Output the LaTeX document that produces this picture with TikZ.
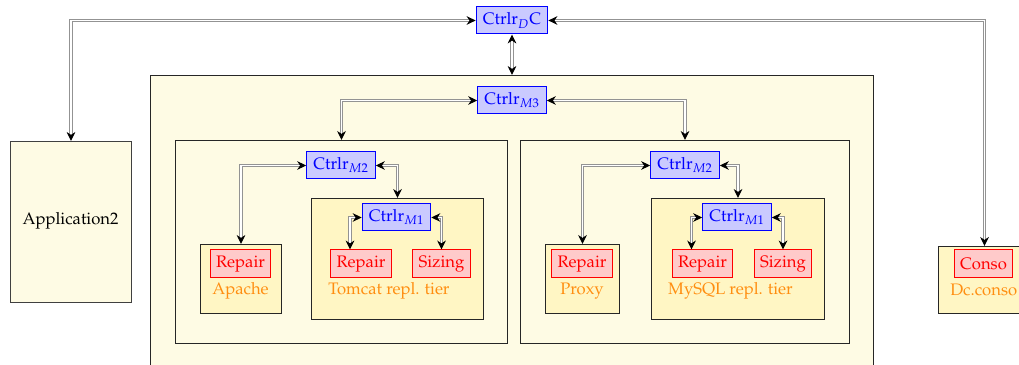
\documentclass[tikz,border=0pt]{standalone}
\usepackage[T1]{fontenc}
\usepackage{mathpazo}
\usetikzlibrary{arrows.meta,calc}
\definecolor{bgy}{HTML}{FEFBE4}
\definecolor{iny}{HTML}{FFF6C4}
\definecolor{ctrlfill}{HTML}{CACAFF}
\definecolor{repfill}{HTML}{FFCACA}
\definecolor{lblor}{HTML}{FF8E10}
\begin{document}
\begin{tikzpicture}[x=0.6pt,y=-0.6pt,
  ctrl/.style={draw=blue, fill=ctrlfill, text=blue, minimum height=16.2pt, inner xsep=4pt, inner ysep=0pt, line width=0.6pt},
  comp/.style={draw=red, fill=repfill, text=red, minimum height=16.8pt, inner xsep=3.5pt, inner ysep=0pt, line width=0.6pt},
  box/.style={draw=black!85, line width=0.6pt, anchor=north west, inner sep=0pt},
  lbl/.style={text=lblor, inner sep=0pt},
  conn/.style={draw=gray!85, double=white, double distance=1pt, line width=0.65pt,
    {Stealth[black,length=5.4pt,width=5.2pt]}-{Stealth[black,length=5.4pt,width=5.2pt]}}
]
\useasboundingbox (0,0) rectangle (1019,365);
% containers
\node[box, fill=bgy, minimum width=433.8pt, minimum height=183pt] (outer) at (150,75) {};
\node[box, fill=bgy, minimum width=199.2pt, minimum height=121.8pt] (mid1) at (175,140) {};
\node[box, fill=bgy, minimum width=197.4pt, minimum height=121.8pt] (mid2) at (520,140) {};
\node[box, fill=iny, minimum width=103.2pt, minimum height=72.6pt] (tomcat) at (311,198) {};
\node[box, fill=iny, minimum width=103.8pt, minimum height=72.6pt] (mysql) at (651,198) {};
\node[box, fill=iny, minimum width=48.6pt, minimum height=41.4pt] (apache) at (200,244) {};
\node[box, fill=iny, minimum width=44.4pt, minimum height=41.4pt] (proxy) at (545,244) {};
\node[box, fill=bgy, draw=black!75, minimum width=72.6pt, minimum height=96.6pt] (app) at (10,141) {};
\node[box, fill=iny, minimum width=55.2pt, minimum height=40.2pt] (consobox) at (938,246) {};
% controllers
\node[ctrl] (dc) at (512,20.5) {Ctrlr$_D$C};
\node[ctrl] (m3) at (512,100.5) {Ctrlr$_{M3}$};
\node[ctrl] (m2a) at (341,165.5) {Ctrlr$_{M2}$};
\node[ctrl] (m2b) at (685,165.5) {Ctrlr$_{M2}$};
\node[ctrl] (m1a) at (396.5,217.5) {Ctrlr$_{M1}$};
\node[ctrl] (m1b) at (737,217.5) {Ctrlr$_{M1}$};
% components
\node[comp] (repap) at (240.5,264) {Repair};
\node[comp] (repa) at (361,264) {Repair};
\node[comp] (siza) at (441.5,264) {Sizing};
\node[comp] (reppx) at (582,264) {Repair};
\node[comp] (repb) at (702.5,264) {Repair};
\node[comp] (sizb) at (783,264) {Sizing};
\node[comp] (conso) at (983.5,264) {Conso};
% labels
\node[lbl] (lapache) at (240.5,291) {Apache};
\node[lbl] (ltomcat) at (389,291) {Tomcat repl. tier};
\node[lbl] (lproxy) at (582,291) {Proxy};
\node[lbl] (lmysql) at (730.5,291) {MySQL repl. tier};
\node[lbl, anchor=west] (lconso) at (950,290) {Dc.conso};
\node[inner sep=0pt] (lapp) at (70.5,221) {Application2};
% connectors
\draw[conn] (dc.west) -| (app.north);
\draw[conn] (dc.east) -| (consobox.north);
\draw[conn] (dc.south) -- (outer.north);
\draw[conn] (m3.west) -| (mid1.north);
\draw[conn] (m3.east) -| (mid2.north);
\draw[conn] (m2a.west) -| (apache.north);
\draw[conn] (m2a.east) -| (tomcat.north);
\draw[conn] (m1a.west) -| ($(repa.north)+(-11,0)$);
\draw[conn] (m1a.east) -| (siza.north);
\draw[conn] (m2b.west) -| (proxy.north);
\draw[conn] (m2b.east) -| (mysql.north);
\draw[conn] (m1b.west) -| ($(repb.north)+(-11,0)$);
\draw[conn] (m1b.east) -| (sizb.north);
\end{tikzpicture}
\end{document}
